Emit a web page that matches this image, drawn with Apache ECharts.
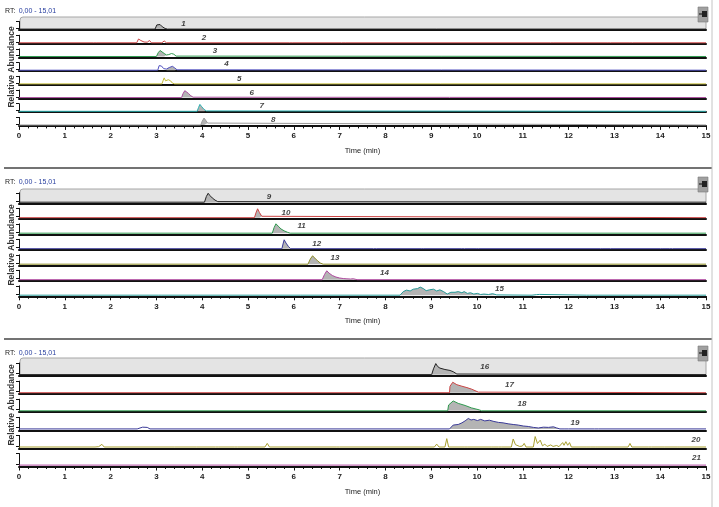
<!DOCTYPE html>
<html><head><meta charset="utf-8">
<script src="https://cdn.jsdelivr.net/npm/echarts@6/dist/echarts.min.js"></script>
<style>html,body{margin:0;padding:0;background:#fff}#c{width:719px;height:507px}</style>
</head><body><div id="c"></div>
<script>
// ---- data: [time (min), relative abundance] ----
const t1 = [[0,0],[2.97,0],[3.01,55],[3.04,79],[3.08,60],[3.13,30],[3.19,8],[3.24,0],[15,0]];
const t2 = [[0,0],[1.62,0],[1.66,15],[1.70,0],[2.57,0],[2.61,50],[2.63,74],[2.66,30],[2.68,5],[2.70,35],[2.73,10],[2.77,30],[2.80,8],[2.85,30],[2.89,0],[3.12,0],[3.17,24],[3.22,0],[5.90,0],[5.94,12],[5.98,0],[7.04,0],[7.08,12],[7.12,0],[11.60,0],[11.64,12],[11.68,0],[12.84,0],[12.88,12],[12.92,0],[13.32,0],[13.36,12],[13.40,0],[15,0]];
const t3 = [[0,0],[3.00,0],[3.04,50],[3.08,79],[3.12,65],[3.17,40],[3.22,20],[3.27,25],[3.33,39],[3.38,30],[3.43,5],[3.47,0],[15,0]];
const t4 = [[0,0],[3.03,0],[3.06,60],[3.08,86],[3.11,55],[3.16,20],[3.22,15],[3.28,35],[3.35,51],[3.40,30],[3.45,5],[3.48,0],[15,0]];
const t5 = [[0,0],[3.12,0],[3.15,50],[3.17,79],[3.20,40],[3.23,15],[3.26,55],[3.28,79],[3.31,40],[3.35,10],[3.40,0],[15,0]];
const t6 = [[0,0],[3.55,0],[3.58,50],[3.62,91],[3.66,80],[3.70,55],[3.75,25],[3.80,5],[3.84,0],[15,0]];
const t7 = [[0,0],[3.89,0],[3.92,50],[3.95,91],[3.99,60],[4.04,25],[4.09,5],[4.12,0],[15,0]];
const t8 = [[0,0],[3.97,0],[4.00,50],[4.04,91],[4.08,70],[4.12,25],[4.16,0],[15,0]];
const t9 = [[0,0],[4.05,0],[4.09,60],[4.13,95],[4.17,70],[4.22,45],[4.28,22],[4.34,6],[4.38,0],[15,0]];
const t10 = [[0,0],[5.14,0],[5.18,60],[5.21,95],[5.25,55],[5.30,15],[5.34,0],[15,0]];
const t11 = [[0,0],[5.53,0],[5.57,60],[5.61,100],[5.66,75],[5.72,45],[5.79,25],[5.86,10],[5.92,0],[15,0]];
const t12 = [[0,0],[5.74,0],[5.77,60],[5.79,95],[5.83,60],[5.88,25],[5.93,0],[7.74,0],[7.77,12],[7.80,0],[8.78,0],[8.81,12],[8.84,0],[9.67,0],[9.70,12],[9.73,0],[9.98,0],[10.01,12],[10.04,0],[12.69,0],[12.72,12],[12.75,0],[12.91,0],[12.94,12],[12.97,0],[14.00,0],[14.03,12],[14.06,0],[14.21,0],[14.24,12],[14.27,0],[15,0]];
const t13 = [[0,0],[6.31,0],[6.36,55],[6.41,89],[6.46,65],[6.52,35],[6.58,12],[6.64,0],[15,0]];
const t14 = [[0,0],[6.62,0],[6.67,55],[6.72,95],[6.77,70],[6.84,45],[6.92,28],[7.00,18],[7.08,12],[7.16,9],[7.24,7],[7.30,10],[7.34,4],[7.38,0],[15,0]];
const t15 = [[0,0],[3.04,0],[3.08,20],[3.12,0],[6.14,0],[6.17,10],[6.20,0],[8.32,0],[8.39,38],[8.46,54],[8.54,45],[8.61,64],[8.70,70],[8.76,86],[8.83,70],[8.89,48],[8.96,57],[9.05,64],[9.12,45],[9.19,57],[9.27,38],[9.35,12],[9.43,31],[9.52,31],[9.59,38],[9.67,26],[9.72,38],[9.79,19],[9.86,26],[9.93,12],[10.01,19],[10.08,7],[10.15,12],[10.25,7],[10.34,16],[10.43,3],[10.47,0],[11.20,0],[11.23,8],[11.30,6],[11.37,8],[11.40,0],[12.39,0],[12.42,8],[12.45,0],[15,0]];
const t16 = [[0,0],[9.01,0],[9.05,50],[9.10,95],[9.14,70],[9.19,56],[9.30,44],[9.41,36],[9.48,25],[9.56,5],[9.60,0],[15,0]];
const t17 = [[0,0],[9.40,0],[9.41,55],[9.47,90],[9.56,69],[9.67,56],[9.78,44],[9.88,31],[10.03,5],[10.07,0],[15,0]];
const t18 = [[0,0],[9.36,0],[9.38,50],[9.48,85],[9.59,64],[9.74,46],[9.88,25],[10.05,8],[10.10,0],[15,0]];
const t19 = [[0,0],[2.58,0],[2.62,12],[2.70,15],[2.80,13],[2.86,0],[9.40,0],[9.48,33],[9.59,38],[9.67,52],[9.74,69],[9.81,90],[9.87,77],[9.93,82],[10.01,72],[10.08,82],[10.17,69],[10.27,75],[10.37,64],[10.47,56],[10.57,52],[10.68,44],[10.79,38],[10.90,33],[11.01,25],[11.12,21],[11.23,13],[11.34,8],[11.45,15],[11.56,13],[11.67,18],[11.74,8],[11.81,0],[11.92,0],[11.96,10],[12.00,0],[12.57,0],[12.61,10],[12.65,0],[15,0]];
const t20 = [[0,0],[1.66,0],[1.70,10],[1.74,3],[1.81,23],[1.86,0],[3.34,0],[3.37,8],[3.40,0],[3.87,0],[3.90,8],[3.93,0],[4.29,0],[4.32,10],[4.35,0],[4.71,0],[4.74,10],[4.77,0],[5.37,0],[5.42,31],[5.47,0],[6.94,0],[6.97,8],[7.00,0],[9.07,0],[9.12,25],[9.17,0],[9.30,0],[9.34,72],[9.38,0],[9.72,0],[9.76,13],[9.80,0],[10.31,0],[10.34,8],[10.37,0],[10.47,0],[10.50,10],[10.53,0],[10.75,0],[10.79,69],[10.84,20],[10.88,31],[10.93,5],[10.99,8],[11.03,31],[11.07,0],[11.23,0],[11.27,90],[11.32,30],[11.38,59],[11.43,10],[11.48,25],[11.53,5],[11.61,18],[11.66,5],[11.74,13],[11.79,3],[11.87,38],[11.90,15],[11.94,46],[11.98,15],[12.02,38],[12.06,0],[12.40,0],[12.43,13],[12.47,0],[12.58,0],[12.61,10],[12.64,0],[13.30,0],[13.34,31],[13.38,0],[13.75,0],[13.78,8],[13.81,0],[14.04,0],[14.07,10],[14.10,0],[14.37,0],[14.40,8],[14.43,0],[15,0]];
const t21 = [[0,0],[4.74,0],[4.77,8],[4.80,0],[15,0]];

const panelTraces = [[t1,t2,t3,t4,t5,t6,t7,t8],[t9,t10,t11,t12,t13,t14,t15],[t16,t17,t18,t19,t20,t21]];
const peakNames = ['1','2','3','4','5','6','7','8','9','10','11','12','13','14','15','16','17','18','19','20','21'];
// label anchor [time, relative abundance]
const peakLabelAt = [[3.59,70],[4.04,60],[4.28,70],[4.53,78],[4.81,68],[5.08,62],[5.30,70],[5.55,67],
  [5.46,60],[5.83,57],[6.17,79],[6.50,50],[6.90,72],[7.98,73],[10.49,64],
  [10.17,69],[10.71,64],[10.98,57],[12.14,56],[14.78,64],[14.79,67]];
// integrated (shaded) peak windows [from, to] in minutes
const integrated = [[2.97,3.24],null,[3.00,3.22],[3.22,3.48],null,[3.55,3.84],[3.89,4.12],[3.97,4.16],
  [4.05,4.38],[5.14,5.34],[5.53,5.92],[5.74,5.93],[6.31,6.64],[6.62,7.38],[8.32,10.47],
  [9.01,9.60],[9.40,10.07],[9.36,10.10],[9.40,11.81],null,null];
const timeRange = [0, 15];

// ---- styles / layout ----
const traceColors = ['#222222','#cc4444','#2e9a4e','#5050c0','#c4bc3a','#a84a9a','#2ab0b0','#9a9a9a',
  '#222222','#cc4444','#2e9a4e','#3a3a98','#8c8c24','#b04aa0','#259a98',
  '#222222','#cc4444','#2e9a4e','#3a3a98','#a8a030','#b04aa0'];
const layout = [
  {base:30, step:13.7, h:8.5, rt:11, box:17, icon:7, ra:67},
  {base:203.3, step:15.5, h:10.5, rt:182, box:189, icon:177, ra:245},
  {base:376, step:18.1, h:13, rt:353, box:358, icon:346, ra:405}
];
const FONT = 'Liberation Sans';

const grids = [], xAxes = [], yAxes = [], series = [], graphics = [];
let g = 0;
panelTraces.forEach((traces, p) => {
  const L = layout[p];
  traces.forEach((data, i) => {
    const base = L.base + i * L.step;
    const isBottom = i === traces.length - 1;
    grids.push({left:19, width:687, top: base - L.h, height: L.h});
    xAxes.push({
      gridIndex:g, type:'value', min:timeRange[0], max:timeRange[1], interval:1,
      axisLine:{show:true, onZero:false, lineStyle:{color:'#111', width:2}},
      axisTick:{show:isBottom, length:4, lineStyle:{color:'#111', width:1}},
      minorTick:{show:isBottom, splitNumber:5, length:2.5, lineStyle:{color:'#111', width:1}},
      axisLabel:{show:isBottom, fontSize:8, fontWeight:'bold', color:'#222', margin:6, fontFamily:FONT},
      splitLine:{show:false}, minorSplitLine:{show:false},
      name: isBottom ? 'Time (min)' : '', nameLocation:'middle', nameGap:21,
      nameTextStyle:{fontSize:7.5, color:'#222', fontFamily:FONT}
    });
    yAxes.push({
      gridIndex:g, type:'value', min:-12, max:100,
      axisLine:{show:true, lineStyle:{color:'#111', width:1}},
      axisTick:{show:true, customValues:[10,100], length:3, lineStyle:{color:'#111'}},
      axisLabel:{show:false}, splitLine:{show:false}
    });
    const idx = g;
    const win = integrated[idx];
    if (win) {
      series.push({type:'line', xAxisIndex:g, yAxisIndex:g, symbol:'none', silent:true, z:3,
        data: data.filter(d => d[0] >= win[0] && d[0] <= win[1]),
        lineStyle:{width:0}, areaStyle:{color:'#b4b4b4', opacity:1}});
    }
    series.push({type:'line', xAxisIndex:g, yAxisIndex:g, symbol:'none', silent:true, z:4, clip:false,
      data: data, lineStyle:{color:traceColors[idx], width:1}, itemStyle:{color:traceColors[idx]}});
    series.push({type:'scatter', xAxisIndex:g, yAxisIndex:g, symbolSize:1, silent:true, z:5, clip:false,
      itemStyle:{color:'rgba(0,0,0,0)'},
      data:[{value:peakLabelAt[idx], name:peakNames[idx]}],
      label:{show:true, position:'inside', formatter:'{b}', fontSize:8, fontStyle:'italic', fontWeight:'bold', color:'#111', fontFamily:FONT}});
    g++;
  });
  // decorations
  graphics.push({type:'rect', z:-1, shape:{x:20, y:L.box, width:686, height:L.base - L.box, r:[3,0,0,0]},
    style:{fill:'#e4e4e4', stroke:'#a6a6a6', lineWidth:1}});
  graphics.push({type:'text', x:5, y:L.rt, style:{text:'{a|RT:} {b|0,00 - 15,01}', verticalAlign:'middle',
    rich:{a:{fill:'#222', fontSize:7, fontFamily:FONT}, b:{fill:'#2a40a0', fontSize:7, fontFamily:FONT}}}});
  graphics.push({type:'rect', shape:{x:698, y:L.icon, width:10, height:15}, style:{fill:'#a0a0a0', stroke:'#7a7a7a', lineWidth:0.6}});
  graphics.push({type:'rect', shape:{x:702, y:L.icon+4, width:5, height:6}, style:{fill:'#222'}});
  graphics.push({type:'line', shape:{x1:699, y1:L.icon+7, x2:702, y2:L.icon+7}, style:{stroke:'#222', lineWidth:1.2}});
  graphics.push({type:'text', x:12, y:L.ra, rotation:Math.PI/2,
    style:{text:'Relative Abundance', fontSize:8.5, fontWeight:'bold', fill:'#333', align:'center', verticalAlign:'middle', fontFamily:FONT}});
});
[168, 339].forEach(y => graphics.push({type:'line', shape:{x1:4, y1:y, x2:712, y2:y}, style:{stroke:'#444', lineWidth:1.5}}));
graphics.push({type:'line', shape:{x1:712, y1:0, x2:712, y2:507}, style:{stroke:'#c4c4c4', lineWidth:1}});

const chart = echarts.init(document.getElementById('c'), null, {renderer:'canvas'});
chart.setOption({
  animation:false,
  backgroundColor:'#ffffff',
  textStyle:{fontFamily:FONT},
  grid:grids, xAxis:xAxes, yAxis:yAxes, series:series, graphic:graphics
});
</script></body></html>
